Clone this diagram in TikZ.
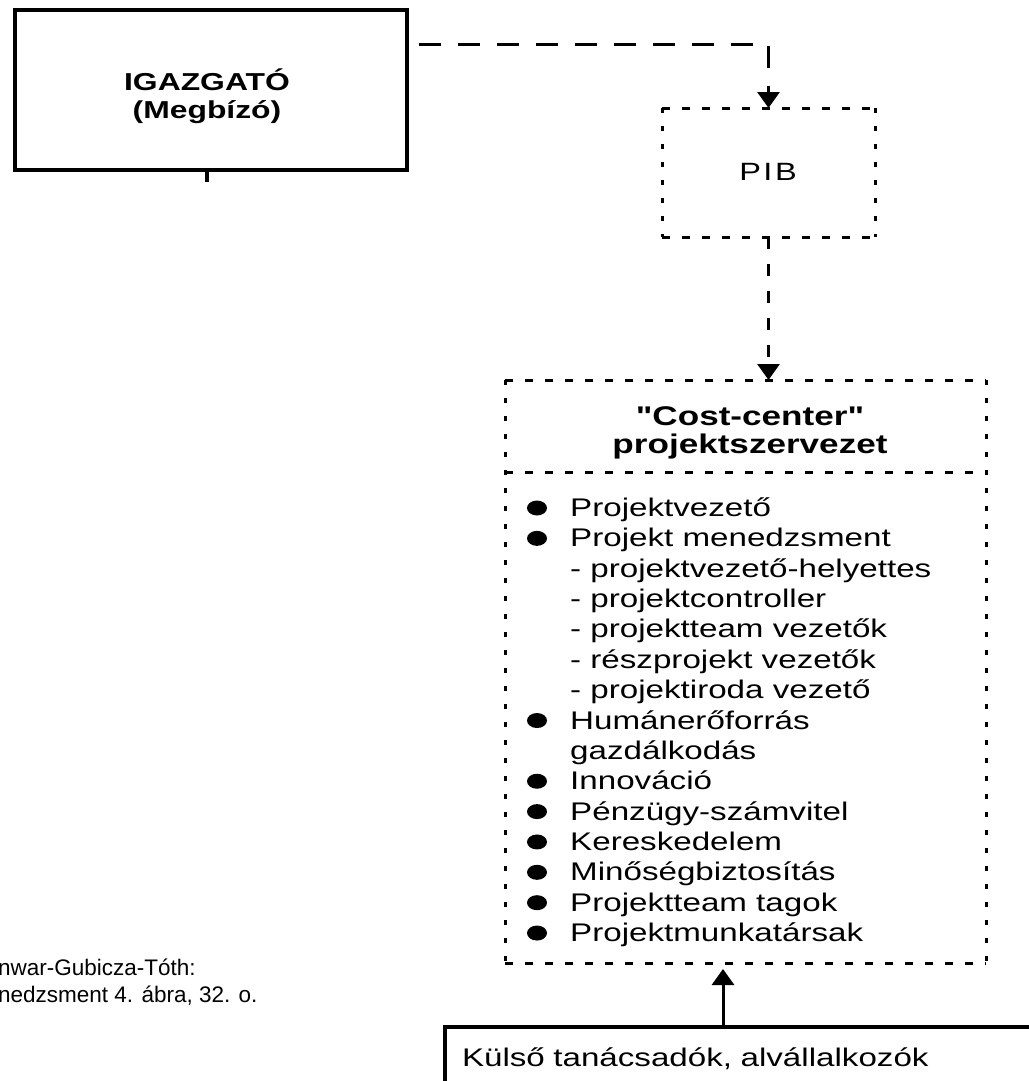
\documentclass[tikz,border=0pt]{standalone}
\usepackage{fontspec}
\setmainfont{Liberation Sans}
\newfontfamily\wideR[FakeStretch=1.3]{Liberation Sans}
\usetikzlibrary{arrows.meta}

\begin{document}
\begin{tikzpicture}[x=1pt,y=-1pt,
  solidbox/.style={draw, line width=3.5pt, inner sep=0pt, outer sep=0pt},
  openbox/.style={inner sep=0pt, outer sep=0pt},
  hdash/.style={line width=3pt, dash pattern=on 8pt off 12pt},
  vdot/.style={line width=3pt, dash pattern=on 5pt off 13pt},
  link/.style={line width=3pt, dash pattern=on 22pt off 17pt},
  shortlink/.style={line width=3pt, dash pattern=on 12pt off 15pt},
  tip/.style={-{Triangle[width=22pt,length=16pt]}},
  boldlabel/.style={inner sep=0pt, align=center, font=\wideR\bfseries\fontsize{24.5}{28}\selectfont},
  costlabel/.style={inner sep=0pt, align=center, font=\wideR\bfseries\fontsize{27}{28}\selectfont},
  itemtext/.style={anchor=base west, inner sep=0pt, font=\wideR\fontsize{25.5}{30}\selectfont},
  srctext/.style={anchor=base west, inner sep=0pt, font=\fontsize{22.5}{28}\selectfont}]

\useasboundingbox (0,0) rectangle (1028,1081);

% Director box
\node[solidbox, minimum width=392pt, minimum height=160pt] (igaz) at (211,90) {};
\node[boldlabel] (igazlbl) at (207,96) {IGAZGATÓ\\(Megbízó)};
\coordinate (stubx) at (207,0);
\draw[line width=3.5pt] (igaz.south -| stubx) -- ++(0,12);

% PIB box
\node[openbox, minimum width=213pt, minimum height=129pt] (pib) at (768.5,172.5) {};
\node[inner sep=0pt, font=\wideR\fontsize{25}{30}\selectfont\addfontfeature{LetterSpace=10}] (piblbl) at (768,172) {PIB};
\draw[hdash] (pib.north west) -- (pib.north east);
\draw[hdash] (pib.south west) -- (pib.south east);
\draw[vdot] (pib.north west) -- (pib.south west);
\draw[vdot] (pib.north east) -- (pib.south east);

% Cost-center project organisation
\node[openbox, minimum width=481pt, minimum height=583pt] (cost) at (745.5,671.5) {};
\draw[hdash] (cost.north west) -- (cost.north east);
\draw[hdash] (cost.south west) -- (cost.south east);
\draw[vdot] (cost.north west) -- (cost.south west);
\draw[vdot] (cost.north east) -- (cost.south east);
\coordinate (divy) at (0,472);
\draw[hdash] (cost.west |- divy) -- (cost.east |- divy);
\node[costlabel] (costlbl) at (750,433) {"Cost-center"\\projektszervezet};

% Member list
\foreach \txt [count=\i] in {Projektvezető, Projekt menedzsment,
    - projektvezető-helyettes, - projektcontroller, - projektteam vezetők,
    - részprojekt vezetők, - projektiroda vezető, Humánerőforrás,
    gazdálkodás, Innováció, Pénzügy-számvitel, Kereskedelem,
    Minőségbiztosítás, Projektteam tagok, Projektmunkatársak} {
  \node[itemtext] (item\i) at (570,{516.5+30.36*(\i-1)}) {\txt};
}
\foreach \i in {1,2,8,10,11,12,13,14,15} {
  \fill ([xshift=-33pt,yshift=8.5pt]item\i.base west) ellipse [x radius=10pt, y radius=7.5pt];
}

% External consultants box
\node[draw, line width=3.5pt, outer sep=0pt, anchor=north west, inner xsep=17pt, inner ysep=0pt,
      text width=600pt, text height=39pt, text depth=40pt, align=left,
      font=\wideR\fontsize{25.5}{30}\selectfont] (kulso) at (445,1027) {Külső tanácsadók, alvállalkozók};

% Source note
\node[srctext] (src1) at (-2,975) {nwar-Gubicza-Tóth:};
\node[srctext] (src2) at (-2,1002) {nedzsment 4. ábra, 32. o.};

% Connectors
\coordinate (linky) at (0,45);
\draw[link, tip, shorten <=12pt] (igaz.east |- linky) -| (pib.north);
\draw[shortlink, tip] (pib.south) -- (pib.south |- cost.north);
\coordinate (kx) at (723,0);
\draw[line width=3pt, tip, shorten >=6pt] (kulso.north -| kx) -- (cost.south -| kx);
\end{tikzpicture}
\end{document}
